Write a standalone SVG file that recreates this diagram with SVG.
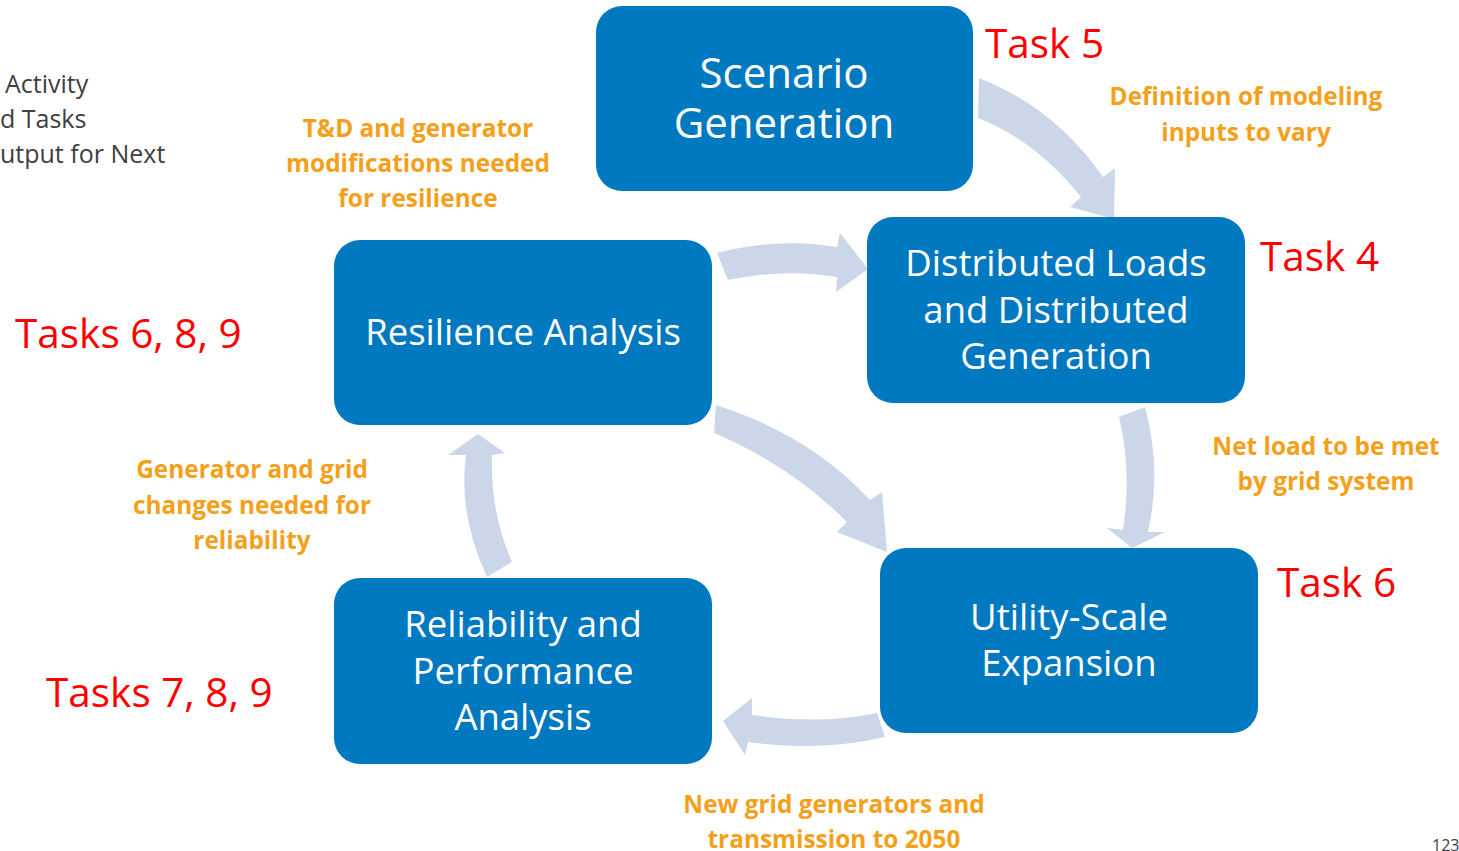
<svg xmlns="http://www.w3.org/2000/svg" width="1459" height="851" viewBox="0 0 1459 851">
<style>
.box{fill:#0179C1;}
.bt{fill:#ffffff;font-family:"Open Sans","Liberation Sans",sans-serif;text-anchor:middle;}
.arr{fill:#CBD6E8;}
.lab{fill:#F5A01A;font-family:"Open Sans","Liberation Sans",sans-serif;font-weight:700;font-size:24.4px;text-anchor:middle;}
.task{fill:#FF0000;font-family:"Open Sans","Liberation Sans",sans-serif;font-size:40.5px;}
.leg{fill:#404040;font-family:"Open Sans","Liberation Sans",sans-serif;font-size:25px;}
</style>
<rect width="1459" height="851" fill="#ffffff"/>
<g id="legend">
<text class="leg" x="5" y="93">Activity</text>
<text class="leg" x="0" y="128">d Tasks</text>
<text class="leg" x="0" y="163">utput for Next</text>
</g>
<g id="connectors">
<path class="arr" d="M979,78 Q1055,108 1103,177 L1115,168 L1114,219 L1070,207 L1081,197 Q1035,140 978,118 Z"/>
<path class="arr" d="M717,253 Q780,237 837,247 L840,233 L868,269 L836,292 L837,277 Q785,268 728,280 Z"/>
<path class="arr" d="M716,405 Q810,435 870,500 L882,492 L887,552 L837,532 L847,522 Q790,465 714,433 Z"/>
<path class="arr" d="M1119,417 Q1132,470 1123,530 L1107,528 L1132,548 L1165,532 L1148,532 Q1162,470 1145,407 Z"/>
<path class="arr" d="M877,713 Q820,725 752,715 L752,698 L723,721 L745,755 L748,742 Q820,752 885,737 Z"/>
<path class="arr" d="M487,577 Q458,515 466,455 L448,455 L478,434 L505,453 L492,455 Q490,512 512,562 Z"/>
</g>
<g id="scenario">
<rect class="box" x="596" y="6" width="377" height="185" rx="26"/>
<text class="bt" font-size="42" x="784" y="88">Scenario</text>
<text class="bt" font-size="42" x="784" y="138">Generation</text>
</g>
<g id="distributed">
<rect class="box" x="867" y="217" width="378" height="186" rx="26"/>
<text class="bt" font-size="36.5" x="1056" y="276">Distributed Loads</text>
<text class="bt" font-size="36.5" x="1056" y="323">and Distributed</text>
<text class="bt" font-size="36.5" x="1056" y="369">Generation</text>
</g>
<g id="resilience">
<rect class="box" x="334" y="240" width="378" height="185" rx="26"/>
<text class="bt" font-size="36.5" x="523" y="345">Resilience Analysis</text>
</g>
<g id="utility">
<rect class="box" x="880" y="548" width="378" height="185" rx="26"/>
<text class="bt" font-size="36.5" x="1069" y="630">Utility-Scale</text>
<text class="bt" font-size="36.5" x="1069" y="676">Expansion</text>
</g>
<g id="reliability">
<rect class="box" x="334" y="578" width="378" height="186" rx="26"/>
<text class="bt" font-size="36.5" x="523" y="637">Reliability and</text>
<text class="bt" font-size="36.5" x="523" y="684">Performance</text>
<text class="bt" font-size="36.5" x="523" y="730">Analysis</text>
</g>
<g id="labels">
<text class="lab" x="418" y="137">T&amp;D and generator</text>
<text class="lab" x="418" y="172">modifications needed</text>
<text class="lab" x="418" y="207">for resilience</text>
<text class="lab" x="1246" y="105">Definition of modeling</text>
<text class="lab" x="1246" y="141">inputs to vary</text>
<text class="lab" x="1326" y="455">Net load to be met</text>
<text class="lab" x="1326" y="490">by grid system</text>
<text class="lab" x="252" y="478">Generator and grid</text>
<text class="lab" x="252" y="514">changes needed for</text>
<text class="lab" x="252" y="549">reliability</text>
<text class="lab" x="834" y="813">New grid generators and</text>
<text class="lab" x="834" y="848">transmission to 2050</text>
</g>
<g id="tasks">
<text class="task" x="985" y="58">Task 5</text>
<text class="task" x="1260" y="271">Task 4</text>
<text class="task" x="15" y="348">Tasks 6, 8, 9</text>
<text class="task" x="1277" y="597">Task 6</text>
<text class="task" x="46" y="707">Tasks 7, 8, 9</text>
</g>
<text x="1432" y="851" font-family="Open Sans, Liberation Sans, sans-serif" font-size="16" fill="#404040">123</text>
</svg>
